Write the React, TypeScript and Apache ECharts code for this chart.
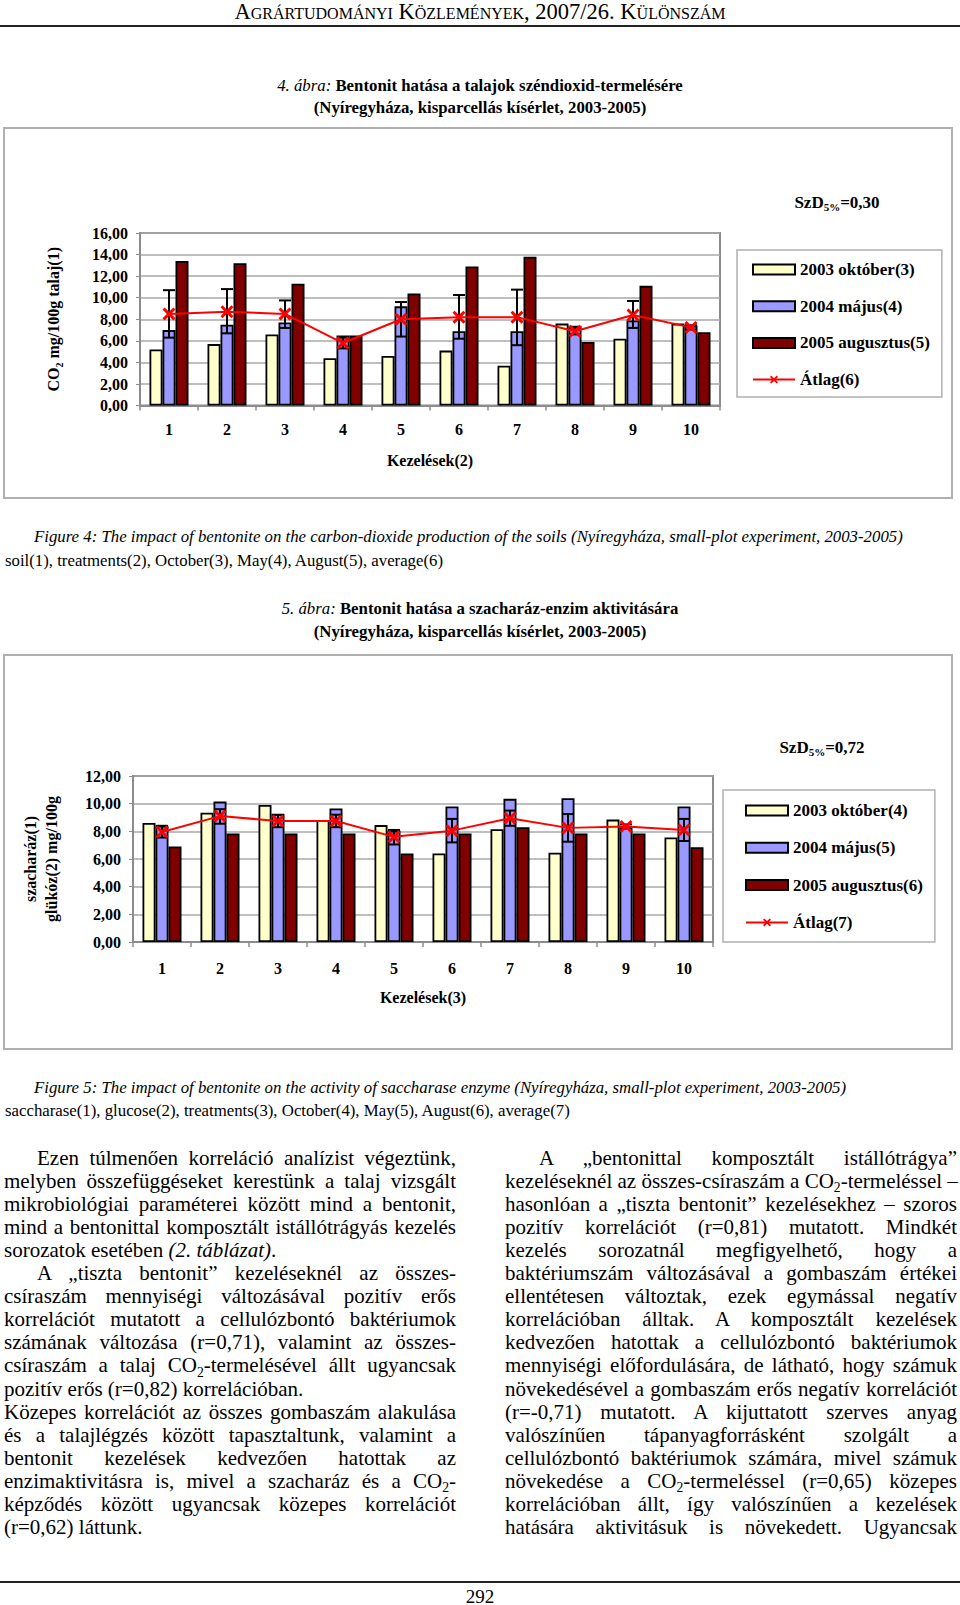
import React, { useEffect, useRef } from 'react';
import * as echarts from 'echarts';

// ---------- data ----------
const categories = ['1', '2', '3', '4', '5', '6', '7', '8', '9', '10'];

// Figure 4: CO2 production (mg/100g soil)
const co2Oct2003 = [5.2, 5.7, 6.6, 4.4, 4.6, 5.1, 3.7, 7.6, 6.2, 7.6];
const co2May2004 = [7.0, 7.5, 7.7, 6.5, 9.2, 6.9, 6.9, 7.4, 7.9, 7.4];
const co2Aug2005 = [13.4, 13.2, 11.3, 6.5, 10.4, 12.9, 13.8, 5.9, 11.1, 6.8];
const co2Avg = [8.5, 8.7, 8.5, 5.8, 8.0, 8.2, 8.2, 6.9, 8.4, 7.25];
const co2ErrLow = [6.3, 6.7, 7.2, 5.3, 6.4, 6.2, 5.6, 6.6, 7.2, 7.05];
const co2ErrHigh = [10.7, 10.8, 9.75, 6.3, 9.6, 10.25, 10.75, 7.2, 9.7, 7.45];
const co2Names = ['2003 október(3)', '2004 május(4)', '2005 augusztus(5)', 'Átlag(6)'];

// Figure 5: saccharase activity (glucose mg/100g)
const sacOct2003 = [8.6, 9.35, 9.9, 8.8, 8.45, 6.4, 8.15, 6.45, 8.85, 7.55];
const sacMay2004 = [8.4, 10.15, 9.25, 9.65, 8.05, 9.8, 10.35, 10.4, 8.35, 9.8];
const sacAug2005 = [6.9, 7.85, 7.85, 7.85, 6.4, 7.85, 8.3, 7.85, 7.85, 6.85];
const sacAvg = [7.95, 9.1, 8.75, 8.75, 7.6, 8.05, 8.95, 8.25, 8.35, 8.1];
const sacErrLow = [7.55, 8.55, 8.3, 8.3, 7.05, 7.2, 8.4, 7.25, 8.2, 7.3];
const sacErrHigh = [8.4, 9.6, 9.2, 9.2, 8.1, 8.9, 9.5, 9.25, 8.5, 8.9];
const sacNames = ['2003 október(4)', '2004 május(5)', '2005 augusztus(6)', 'Átlag(7)'];

// ---------- styles ----------
const FONT = "'Liberation Serif', 'Times New Roman', Times, serif";
const X_PATH = 'path://M0,1.6L1.6,0L5,3.4L8.4,0L10,1.6L6.6,5L10,8.4L8.4,10L5,6.6L1.6,10L0,8.4L3.4,5Z';
const COLORS = ['#FFFFCC', '#9999FF', '#800000'];

function fmt(v: number) {
  return v.toFixed(2).replace('.', ',');
}

function buildOption(cfg: any) {
  const bold = { fontFamily: FONT, fontWeight: 'bold', fontSize: 16, color: '#000' };
  const barSeries = [cfg.oct, cfg.may, cfg.aug].map((d: number[], i: number) => ({
    type: 'bar',
    name: cfg.names[i],
    data: d,
    barWidth: 13,
    barGap: '0%',
    itemStyle: { color: COLORS[i], borderColor: '#000', borderWidth: 1.8 },
    z: 2,
  }));
  return {
    animation: false,
    textStyle: { fontFamily: FONT },
    grid: {
      left: cfg.gridLeft,
      top: cfg.gridTop,
      width: 580,
      height: cfg.gridHeight,
      show: true,
      borderColor: '#8c8c8c',
      borderWidth: 2,
      backgroundColor: 'transparent',
    },
    legend: {
      data: cfg.names.map((n: string, i: number) => (i < 3 ? { name: n, icon: 'rect' } : { name: n })),
      orient: 'vertical',
      left: cfg.legendLeft,
      top: cfg.legendTop,
      itemWidth: 42,
      itemHeight: 10,
      itemGap: cfg.itemGap,
      padding: cfg.legendPadding,
      borderColor: '#b0b0b0',
      borderWidth: 1.5,
      selectedMode: false,
      textStyle: { ...bold, fontSize: 17 },
    },
    xAxis: {
      type: 'category',
      data: categories,
      name: cfg.xName,
      nameLocation: 'middle',
      nameGap: cfg.xNameGap,
      nameTextStyle: bold,
      axisLine: { lineStyle: { color: '#8c8c8c', width: 2 } },
      axisTick: { show: true, length: 5, lineStyle: { color: '#8c8c8c', width: 1.5 } },
      axisLabel: { ...bold, margin: cfg.xLabelMargin },
    },
    yAxis: {
      type: 'value',
      min: 0,
      max: cfg.yMax,
      interval: 2,
      name: cfg.yName,
      nameLocation: 'middle',
      nameRotate: 90,
      nameGap: cfg.yNameGap,
      nameTextStyle: {
        ...bold,
        lineHeight: 21,
        rich: {
          a: { ...bold, lineHeight: 21 },
          s: { ...bold, fontSize: 10, lineHeight: 21, verticalAlign: 'bottom' },
        },
      },
      axisLine: { show: true, lineStyle: { color: '#8c8c8c', width: 2 } },
      axisTick: { show: true, length: 4, lineStyle: { color: '#8c8c8c' } },
      axisLabel: { ...bold, margin: 12, formatter: (v: number) => fmt(v) },
      splitLine: { lineStyle: { color: '#a8a8a8', width: 1.5 } },
    },
    graphic: [
      {
        type: 'rect',
        shape: cfg.box,
        style: { fill: 'none', stroke: '#b0b0b0', lineWidth: 2 },
        silent: true,
      },
      {
        type: 'text',
        x: cfg.szdX,
        y: cfg.szdY,
        style: {
          text: '{a|SzD}{s|5%}{a|' + cfg.szd + '}',
          align: 'center',
          verticalAlign: 'middle',
          rich: {
            a: { ...bold, fontSize: 17, fill: '#000', lineHeight: 20 },
            s: { fontFamily: FONT, fontWeight: 'bold', fontSize: 11, fill: '#000', lineHeight: 20, verticalAlign: 'bottom' },
          },
        },
      },
    ],
    series: [
      ...barSeries,
      {
        type: 'custom',
        name: 'err',
        data: categories.map((c, i) => [i, cfg.errLow[i], cfg.errHigh[i]]),
        encode: { x: 0, y: [1, 2] },
        z: 3,
        renderItem: (params: any, api: any) => {
          const lo = api.coord([api.value(0), api.value(1)]);
          const hi = api.coord([api.value(0), api.value(2)]);
          const x = lo[0];
          const hw = 6;
          const st = { stroke: '#000', lineWidth: 2 };
          return {
            type: 'group',
            children: [
              { type: 'line', shape: { x1: x, y1: lo[1], x2: x, y2: hi[1] }, style: st },
              { type: 'line', shape: { x1: x - hw, y1: lo[1], x2: x + hw, y2: lo[1] }, style: st },
              { type: 'line', shape: { x1: x - hw, y1: hi[1], x2: x + hw, y2: hi[1] }, style: st },
            ],
          };
        },
      },
      {
        type: 'line',
        name: cfg.names[3],
        data: cfg.avg,
        symbol: X_PATH,
        symbolSize: 13,
        lineStyle: { color: '#FF0000', width: 2 },
        itemStyle: { color: '#FF0000' },
        z: 4,
      },
    ],
  };
}

const option1 = buildOption({
  oct: co2Oct2003,
  may: co2May2004,
  aug: co2Aug2005,
  avg: co2Avg,
  errLow: co2ErrLow,
  errHigh: co2ErrHigh,
  names: co2Names,
  yMax: 16,
  yName: '{a|CO}{s|2}{a| mg/100g talaj(1)}',
  yNameGap: 76,
  xName: 'Kezelések(2)',
  xNameGap: 47,
  xLabelMargin: 16,
  gridLeft: 140,
  gridTop: 113,
  gridHeight: 172.6,
  legendLeft: 737,
  legendTop: 130,
  legendPadding: [11, 12, 9, 15],
  itemGap: 19.7,
  szd: '=0,30',
  szdX: 837,
  szdY: 82,
  box: { x: 4, y: 8, width: 948, height: 370 },
});

const option2 = buildOption({
  oct: sacOct2003,
  may: sacMay2004,
  aug: sacAug2005,
  avg: sacAvg,
  errLow: sacErrLow,
  errHigh: sacErrHigh,
  names: sacNames,
  yMax: 12,
  yName: 'szacharáz(1)\nglükóz(2) mg/100g',
  yNameGap: 71,
  xName: 'Kezelések(3)',
  xNameGap: 47,
  xLabelMargin: 18,
  gridLeft: 133,
  gridTop: 131,
  gridHeight: 166,
  legendLeft: 723,
  legendTop: 145,
  legendPadding: [12, 12, 11, 22],
  itemGap: 20.3,
  szd: '=0,72',
  szdX: 822,
  szdY: 102,
  box: { x: 4, y: 10, width: 948, height: 394 },
});

function Chart({ option, top, height }: { option: any; top: number; height: number }) {
  const ref = useRef<HTMLDivElement>(null);
  useEffect(() => {
    const c = echarts.init(ref.current!, null, { renderer: 'svg' });
    c.setOption(option);
    return () => c.dispose();
  }, [option]);
  return <div ref={ref} style={{ position: 'absolute', left: 0, top, width: 960, height }} />;
}

const Sub = ({ children }: any) => (
  <span style={{ fontSize: '0.65em', position: 'relative', top: '0.3em' }}>{children}</span>
);

function Line({ y, x = 0, w, children, last, indent = 0, size = 21 }: any) {
  return (
    <div
      style={{
        position: 'absolute',
        left: x,
        top: y - 12,
        width: w,
        height: 24,
        lineHeight: '24px',
        fontSize: size,
        whiteSpace: 'nowrap',
        textAlign: last ? 'left' : 'justify',
        textAlignLast: last ? 'left' : 'justify',
        paddingLeft: indent,
        boxSizing: 'border-box',
      } as any}
    >
      {children}
    </div>
  );
}

const LH = 23.05;
const Y0 = 1158;

const leftLines: any[] = [
  { t: 'Ezen túlmenően korreláció analízist végeztünk,', indent: 33 },
  { t: 'melyben összefüggéseket kerestünk a talaj vizsgált' },
  { t: 'mikrobiológiai paraméterei között mind a bentonit,' },
  { t: 'mind a bentonittal komposztált istállótrágyás kezelés' },
  { t: <>sorozatok esetében <i>(2. táblázat)</i>.</>, last: true },
  { t: 'A „tiszta bentonit” kezeléseknél az összes-', indent: 33 },
  { t: 'csíraszám mennyiségi változásával pozitív erős' },
  { t: 'korrelációt mutatott a cellulózbontó baktériumok' },
  { t: 'számának változása (r=0,71), valamint az összes-' },
  { t: <>csíraszám a talaj CO<Sub>2</Sub>-termelésével állt ugyancsak</> },
  { t: 'pozitív erős (r=0,82) korrelációban.', last: true },
  { t: 'Közepes korrelációt az összes gombaszám alakulása' },
  { t: 'és a talajlégzés között tapasztaltunk, valamint a' },
  { t: 'bentonit kezelések kedvezően hatottak az' },
  { t: <>enzimaktivitásra is, mivel a szacharáz és a CO<Sub>2</Sub>-</> },
  { t: 'képződés között ugyancsak közepes korrelációt' },
  { t: '(r=0,62) láttunk.', last: true },
];

const rightLines: any[] = [
  { t: 'A „bentonittal komposztált istállótrágya”', indent: 34 },
  { t: <>kezeléseknél az összes-csíraszám a CO<Sub>2</Sub>-termeléssel –</> },
  { t: 'hasonlóan a „tiszta bentonit” kezelésekhez – szoros' },
  { t: 'pozitív korrelációt (r=0,81) mutatott. Mindkét' },
  { t: 'kezelés sorozatnál megfigyelhető, hogy a' },
  { t: 'baktériumszám változásával a gombaszám értékei' },
  { t: 'ellentétesen változtak, ezek egymással negatív' },
  { t: 'korrelációban álltak. A komposztált kezelések' },
  { t: 'kedvezően hatottak a cellulózbontó baktériumok' },
  { t: 'mennyiségi előfordulására, de látható, hogy számuk' },
  { t: 'növekedésével a gombaszám erős negatív korrelációt' },
  { t: '(r=-0,71) mutatott. A kijuttatott szerves anyag' },
  { t: 'valószínűen tápanyagforrásként szolgált a' },
  { t: 'cellulózbontó baktériumok számára, mivel számuk' },
  { t: <>növekedése a CO<Sub>2</Sub>-termeléssel (r=0,65) közepes</> },
  { t: 'korrelációban állt, így valószínűen a kezelések' },
  { t: 'hatására aktivitásuk is növekedett. Ugyancsak' },
];

function Centered({ y, size, children, style, h = 20 }: any) {
  return (
    <div
      style={{
        position: 'absolute',
        left: 0,
        width: 960,
        top: y - h / 2,
        height: h,
        lineHeight: h + 'px',
        textAlign: 'center',
        fontSize: size,
        whiteSpace: 'nowrap',
        ...style,
      }}
    >
      {children}
    </div>
  );
}

function Plain({ x, y, size, children, style }: any) {
  return (
    <div
      style={{
        position: 'absolute',
        left: x,
        top: y - 11,
        height: 22,
        lineHeight: '22px',
        fontSize: size,
        whiteSpace: 'nowrap',
        ...style,
      }}
    >
      {children}
    </div>
  );
}

export default function App() {
  return (
    <div
      style={{
        position: 'absolute',
        left: 0,
        top: 0,
        width: 960,
        height: 1605,
        background: '#fff',
        color: '#000',
        fontFamily: FONT,
        overflow: 'hidden',
      }}
    >
      <Centered y={12} size={22.5} style={{ fontVariant: 'small-caps' }}>
        Agrártudományi Közlemények, 2007/26. Különszám
      </Centered>
      <div style={{ position: 'absolute', left: 0, top: 25, width: 960, height: 2, background: '#222' }} />

      <Centered y={86} size={16.8} style={{ fontWeight: 'bold' }}>
        <i style={{ fontWeight: 'normal' }}>4. ábra:</i> Bentonit hatása a talajok széndioxid-termelésére
      </Centered>
      <Centered y={107.5} size={16.8} style={{ fontWeight: 'bold' }}>
        (Nyíregyháza, kisparcellás kísérlet, 2003-2005)
      </Centered>

      <Chart option={option1} top={120} height={390} />

      <Plain x={34} y={537} size={16.8} style={{ fontStyle: 'italic' }}>
        Figure 4: The impact of bentonite on the carbon-dioxide production of the soils (Nyíregyháza, small-plot
        experiment, 2003-2005)
      </Plain>
      <Plain x={5} y={561} size={16.8}>
        soil(1), treatments(2), October(3), May(4), August(5), average(6)
      </Plain>

      <Centered y={609} size={16.8} style={{ fontWeight: 'bold' }}>
        <i style={{ fontWeight: 'normal' }}>5. ábra:</i> Bentonit hatása a szacharáz-enzim aktivitására
      </Centered>
      <Centered y={632} size={16.8} style={{ fontWeight: 'bold' }}>
        (Nyíregyháza, kisparcellás kísérlet, 2003-2005)
      </Centered>

      <Chart option={option2} top={645} height={415} />

      <Plain x={34} y={1088} size={16.8} style={{ fontStyle: 'italic' }}>
        Figure 5: The impact of bentonite on the activity of saccharase enzyme (Nyíregyháza, small-plot experiment,
        2003-2005)
      </Plain>
      <Plain x={5} y={1111} size={16.8}>
        saccharase(1), glucose(2), treatments(3), October(4), May(5), August(6), average(7)
      </Plain>

      {leftLines.map((l, i) => (
        <Line key={'l' + i} x={4} w={452} y={Y0 + i * LH} indent={l.indent} last={l.last}>
          {l.t}
        </Line>
      ))}
      {rightLines.map((l, i) => (
        <Line key={'r' + i} x={505} w={452} y={Y0 + i * LH} indent={l.indent} last={l.last}>
          {l.t}
        </Line>
      ))}

      <div style={{ position: 'absolute', left: 0, top: 1581, width: 960, height: 2, background: '#222' }} />
      <Centered y={1596} h={17} size={19}>
        292
      </Centered>
    </div>
  );
}
